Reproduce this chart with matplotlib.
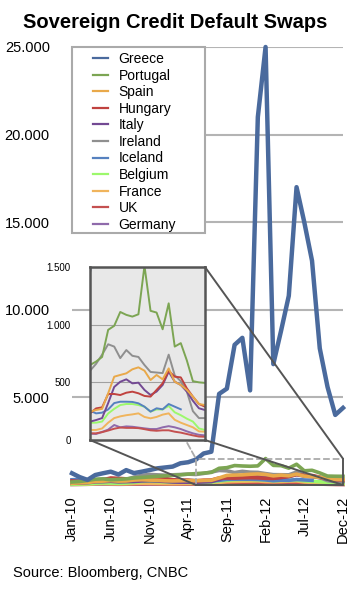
import numpy as np
import pandas as pd
import matplotlib
matplotlib.use("Agg")
import matplotlib.pyplot as plt
from matplotlib.patches import Rectangle, ConnectionPatch
from matplotlib.lines import Line2D
from matplotlib.ticker import FuncFormatter

plt.rcParams['font.family'] = ['Liberation Sans', 'DejaVu Sans']

# ---- data (CDS spreads, basis points, monthly Jan-10 .. Dec-12) ----
months = pd.date_range('2010-01-01', periods=36, freq='MS').strftime('%b-%y')
nan = np.nan

greece = [670, 450, 290, 570, 670, 760, 600, 850, 680, 760, 850, 950, 1000, 1050, 1240, 1300,
          1450, 1800, 1900, 5200, 5500, 8000, 8400, 5400, 21000, 25000, 6900, 8800, 10800, 17000,
          15000, 12800, 7800, 5600, 4000, 4400]
portugal = [170, 200, 260, 330, 350, 300, 320, 350, 400, 430, 460, 500, 520, 550, 580, 620,
            650, 680, 720, 955, 990, 1110, 1085, 1070, 1090, 1510, 1120, 1105, 960, 1185,
            810, 840, 690, 510, 500, 495]
spain = [100, 120, 140, 200, 220, 250, 220, 230, 280, 300, 280, 270, 240, 230, 240, 250,
         246, 260, 270, 405, 549, 564, 578, 613, 630, 601, 520, 564, 526, 621, 505, 477, 434, 376, 312, 303]
hungary = [230, 200, 200, 250, 300, 400, 380, 350, 350, 380, 400, 420, 380, 300, 280, 280,
           231, 274, 283, 399, 399, 390, 410, 419, 405, 382, 376, 434, 491, 600, 549, 543, 448, 376, 312, 289]
italy = [100, 110, 130, 180, 190, 210, 180, 190, 200, 230, 240, 230, 200, 170, 160, 160,
         159, 173, 190, 320, 460, 505, 526, 491, 497, 434, 390, 420, 477, 592, 506, 477, 420, 340, 275, 260]
ireland = [150, 160, 180, 240, 260, 250, 280, 320, 450, 550, 600, 580, 560, 580, 600, 620,
           600, 660, 740, 830, 810, 710, 780, 730, 720, 650, 590, 585, 580, 740, 560, 510, 420, 250, 190, 190]
iceland = [300, 320, 310, 300, 320, 330, 300, 290, 280, 290, 300, 300, 280, 260, 250, 250,
           255, 231, 237, 265, 320, 332, 332, 330, 318, 289, 246, 275, 266, 312, 289, 266, nan, nan, nan, nan]
belgium = [50, 60, 70, 100, 120, 110, 100, 110, 150, 200, 220, 200, 180, 170, 160, 150,
           150, 150, 160, 230, 270, 303, 312, 312, 303, 289, 246, 265, 265, 295, 240, 215, 185, 160, 100, 87]
france = [30, 35, 45, 70, 80, 70, 65, 70, 85, 100, 100, 90, 80, 75, 80, 87,
          87, 87, 100, 150, 190, 205, 215, 222, 231, 200, 188, 200, 220, 231, 175, 150, 130, 110, 75, 72]
uk = [70, 75, 80, 90, 90, 80, 70, 65, 60, 65, 70, 65, 60, 58, 58, 58,
      58, 58, 68, 82, 98, 108, 105, 105, 103, 94, 84, 80, 84, 84, 72, 64, 52, 40, 30, 28]
germany = [30, 35, 40, 50, 50, 45, 40, 45, 50, 55, 60, 55, 50, 50, 52, 55,
           55, 52, 70, 90, 130, 110, 118, 115, 108, 101, 95, 95, 110, 120, 110, 95, 75, 58, 45, 40]

names = ['Greece', 'Portugal', 'Spain', 'Hungary', 'Italy', 'Ireland', 'Iceland',
         'Belgium', 'France', 'UK', 'Germany']
series = [greece, portugal, spain, hungary, italy, ireland, iceland, belgium, france, uk, germany]
colors = ['#4a6a9d', '#7ca553', '#e9a94a', '#c0423f', '#734993', '#8f8f8f', '#5681bf',
          '#9cf86c', '#f0b45c', '#c45050', '#8f6aab']

tick_step = 5
zoom_start, zoom_top = 16, 1500

x = np.arange(len(months))
thousands = FuncFormatter(lambda v, p: f"{v:,.0f}".replace(",", "."))

# ---- figure ----
fig = plt.figure(figsize=(3.51, 5.90), dpi=100)
ax = fig.add_axes([72/351, 105/590, 271/351, 438/590])
ax.set_zorder(0)
ax.patch.set_alpha(0)

for i in reversed(range(len(series))):
    ax.plot(x, series[i], color=colors[i], lw=3.2 if i == 0 else 2.6,
            solid_joinstyle='round', clip_on=False, zorder=2 + (len(series) - i) * 0.01)

ax.set_xlim(0, len(months) - 1)
ax.set_ylim(0, 25000)
ax.set_yticks([5000, 10000, 15000, 20000, 25000])
ax.yaxis.set_major_formatter(thousands)
ax.yaxis.grid(True, color='#b4b4b4', lw=1.5)
ax.set_axisbelow(True)
ax.set_xticks(x[::tick_step])
ax.set_xticklabels(months[::tick_step], rotation=90)
ax.tick_params(axis='y', length=0, pad=16, labelsize=10.5)
ax.tick_params(axis='x', length=0, pad=8, labelsize=10.5)
for s in ax.spines.values():
    s.set_visible(False)

# zoom window outline on the main chart
x_end = len(months) - 1
ax.plot([zoom_start, zoom_start, x_end], [0, zoom_top, zoom_top], ls='--', color='#aaaaaa',
        lw=1.3, clip_on=False, zorder=3)
ax.plot([zoom_start, x_end, x_end], [0, 0, zoom_top], color='#555555', lw=1.4,
        clip_on=False, zorder=3)

# legend with its own box
ax.add_patch(Rectangle((0, 252/438), 133/271, 186/438, transform=ax.transAxes,
                       fc='white', ec='#aaaaaa', lw=1.5, zorder=2.5, clip_on=False))
handles = [Line2D([], [], color=c, lw=1.6) for c in colors]
leg = ax.legend(handles, names, loc='upper left', bbox_to_anchor=(21/271, 1 - 5/438),
                frameon=False, fontsize=10, handlelength=1.1, handletextpad=0.75,
                labelspacing=0.185, borderpad=0, borderaxespad=0)
leg.set_zorder(3)

# ---- inset ----
axins = fig.add_axes([90/351, 150/590, 115/351, 173/590])
axins.set_zorder(4)
axins.set_facecolor('#e8e8e8')
for i in reversed(range(len(series))):
    axins.plot(x, series[i], color=colors[i], lw=1.4)
axins.set_xlim(zoom_start, x_end)
axins.set_ylim(0, zoom_top)
axins.set_yticks([0, 500, 1000, 1500])
axins.yaxis.set_major_formatter(thousands)
axins.yaxis.grid(True, color='#a0a0a0', lw=0.8)
axins.set_axisbelow(True)
axins.set_xticks([])
axins.tick_params(axis='y', length=0, pad=14, labelsize=7)
for s in axins.spines.values():
    s.set_color('#555555')
    s.set_linewidth(1.8)

# connectors between inset and zoom window
for (xa, ya), (xb, yb) in [((1, 1), (x_end, zoom_top)), ((1, 0), (x_end, 0)), ((0, 0), (zoom_start, 0))]:
    con = ConnectionPatch(xyA=(xa, ya), coordsA=axins.transAxes, xyB=(xb, yb), coordsB=ax.transData,
                          color='#555555', lw=1.4)
    con.set_zorder(5)
    fig.add_artist(con)
con = ConnectionPatch(xyA=(0, 1), coordsA=axins.transAxes, xyB=(zoom_start, zoom_top), coordsB=ax.transData,
                      color='#aaaaaa', lw=1.3, ls='--')
con.set_zorder(1)
fig.add_artist(con)

fig.text(0.5, 1 - 28/590, 'Sovereign Credit Default Swaps', ha='center', va='baseline',
         fontsize=14.5, fontweight='bold')
fig.text(13/351, 1 - 573/590, 'Source: Bloomberg, CNBC', ha='left', va='center', fontsize=10.5)

fig.savefig('out.png', dpi=100)
